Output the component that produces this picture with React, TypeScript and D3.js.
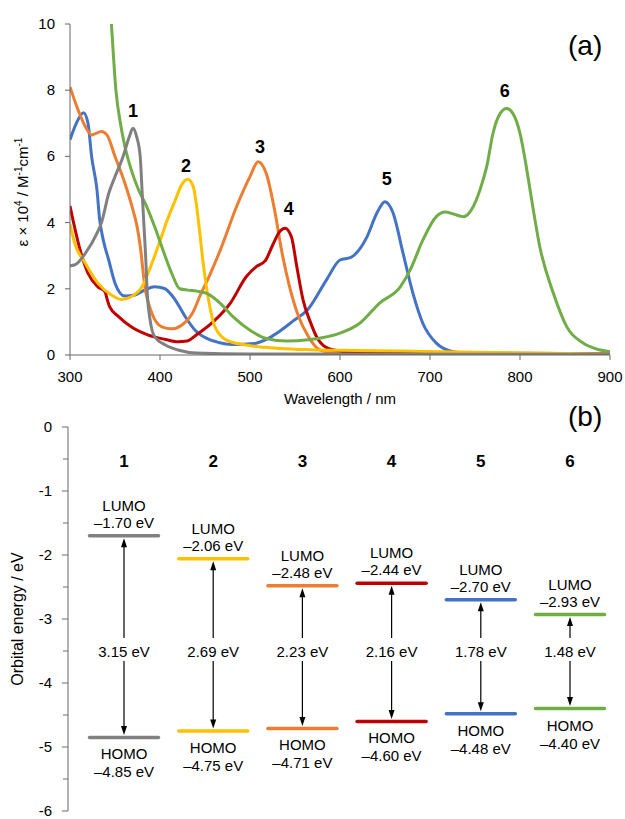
import React from 'react'
import * as d3 from 'd3'

// absorption spectra, [wavelength nm, eps x 1e4]
const abs1 = [[300, 2.7], [305, 2.72], [317, 3.07], [330, 3.68], [335, 4.0], [343, 4.88], [350, 5.39], [359, 6.0], [366, 6.6], [370, 6.85], [374, 6.6], [378, 6.0], [380, 5.0], [382, 4.0], [384, 3.0], [386, 1.8], [389, 1.06], [394, 0.55], [406, 0.3], [420, 0.15], [440, 0.06], [500, 0.03], [900, 0.02]]
const abs2 = [[300, 3.95], [305, 3.4], [317, 2.77], [331, 2.17], [346, 1.81], [357, 1.68], [368, 1.76], [380, 2.06], [391, 2.77], [402, 3.6], [407, 4.0], [417, 4.68], [424, 5.14], [431, 5.31], [437, 5.08], [443, 3.98], [448, 2.77], [454, 1.66], [461, 0.85], [474, 0.45], [496, 0.3], [533, 0.2], [567, 0.16], [600, 0.14], [667, 0.12], [750, 0.08], [900, 0.03]]
const abs3 = [[300, 8.1], [309, 7.4], [317, 6.9], [324, 6.65], [335, 6.75], [341, 6.65], [350, 6.0], [361, 5.19], [370, 4.38], [374, 3.95], [378, 3.3], [383, 2.1], [391, 1.26], [402, 0.85], [413, 0.79], [424, 0.9], [437, 1.31], [444, 1.76], [455, 2.4], [467, 3.17], [485, 4.48], [500, 5.39], [509, 5.84], [518, 5.49], [528, 4.28], [535, 3.17], [544, 2.06], [554, 1.16], [565, 0.55], [575, 0.2], [585, 0.1], [650, 0.06], [900, 0.04]]
const abs4 = [[300, 4.5], [311, 3.2], [320, 2.47], [331, 2.06], [339, 1.91], [341, 1.71], [344, 1.46], [354, 1.16], [368, 0.85], [387, 0.6], [406, 0.47], [420, 0.4], [430, 0.42], [441, 0.62], [459, 1.0], [478, 1.56], [496, 2.37], [507, 2.67], [517, 2.85], [526, 3.37], [533, 3.73], [539, 3.83], [546, 3.57], [552, 2.67], [559, 1.66], [567, 1.0], [575, 0.5], [581, 0.3], [593, 0.15], [620, 0.08], [900, 0.04]]
const abs5 = [[300, 6.5], [307, 7.0], [315, 7.32], [320, 7.0], [324, 6.0], [330, 4.98], [333, 4.08], [337, 3.47], [343, 2.87], [350, 2.17], [361, 1.78], [372, 1.81], [383, 1.96], [394, 2.06], [405, 2.01], [417, 1.66], [428, 1.16], [439, 0.75], [452, 0.5], [465, 0.38], [480, 0.32], [505, 0.35], [520, 0.5], [533, 0.72], [548, 1.03], [565, 1.4], [585, 2.27], [600, 2.87], [612, 2.95], [630, 3.57], [641, 4.29], [650, 4.63], [659, 4.29], [670, 3.08], [681, 1.87], [692, 0.96], [707, 0.36], [726, 0.1], [750, 0.04], [900, 0.02]]
const abs6 = [[340, 12.5], [346, 10], [351, 8.0], [356, 7.0], [361, 6.3], [368, 5.6], [376, 5.0], [385, 4.5], [394, 3.88], [402, 3.27], [413, 2.47], [422, 2.0], [431, 1.96], [441, 1.93], [452, 1.86], [467, 1.56], [481, 1.16], [500, 0.75], [518, 0.5], [541, 0.42], [565, 0.46], [580, 0.52], [600, 0.66], [622, 0.96], [644, 1.57], [667, 2.06], [678, 2.57], [692, 3.47], [707, 4.18], [717, 4.32], [727, 4.25], [737, 4.18], [748, 4.48], [759, 5.29], [763, 5.69], [770, 6.7], [778, 7.3], [785, 7.45], [792, 7.3], [800, 6.7], [807, 5.69], [813, 4.68], [822, 3.27], [837, 1.87], [852, 0.85], [870, 0.36], [885, 0.18], [900, 0.1]]

const compounds = ['1', '2', '3', '4', '5', '6']
const colors = ['#808080', '#FFC000', '#ED7D31', '#C00000', '#4472C4', '#70AD47']
const spectra = [abs1, abs2, abs3, abs4, abs5, abs6]
const drawOrder = [4, 2, 3, 1, 5, 0]
// where the number labels sit, in data units
const peakLabels = [[370, 7.2], [429, 5.53], [511, 6.1], [543, 4.23], [652, 5.14], [783, 7.79]]

const xTicksA = [300, 400, 500, 600, 700, 800, 900]
const yTicksA = [0, 2, 4, 6, 8, 10]

// orbital energies (eV)
const lumo = [-1.70, -2.06, -2.48, -2.44, -2.70, -2.93]
const homo = [-4.85, -4.75, -4.71, -4.60, -4.48, -4.40]
const gaps = [3.15, 2.69, 2.23, 2.16, 1.78, 1.48]
const yTicksB = [0, -1, -2, -3, -4, -5, -6]

const FONT = 'Liberation Sans, Arial, Helvetica, sans-serif'
const fmt = (v: number) => '\u2013' + Math.abs(v).toFixed(2) + ' eV'

export default function App() {
  // panel (a)
  const x = d3.scaleLinear().domain([300, 900]).range([70, 610])
  const y = d3.scaleLinear().domain([0, 10]).range([355, 24])
  const line = d3.line<number[]>().x(d => x(d[0])).y(d => y(d[1])).curve(d3.curveMonotoneX)

  // panel (b)
  const xb = d3.scalePoint<string>().domain(compounds).range([124, 570])
  const yb = d3.scaleLinear().domain([0, -6]).range([427, 811])
  const half = 34.5
  const minorB = d3.range(0, -6.01, -0.5)
  const gapY = yb(-3.5)

  return (
    <svg width={625} height={819} style={{ position: 'absolute', left: 0, top: 0, background: '#fff' }} fontFamily={FONT}>
      <defs>
        <clipPath id="plotA">
          <rect x={x(300)} y={y(10)} width={x(900) - x(300)} height={y(0) - y(10)} />
        </clipPath>
      </defs>

      {/* ---- (a) absorption ---- */}
      <g clipPath="url(#plotA)">
        {drawOrder.map(i => (
          <path key={i} d={line(spectra[i]) || ''} fill="none" stroke={colors[i]} strokeWidth={3} strokeLinejoin="round" />
        ))}
      </g>
      <g stroke="#666" strokeWidth={1}>
        <line x1={x(300)} x2={x(300)} y1={y(10)} y2={y(0)} />
        <line x1={x(300)} x2={x(900)} y1={y(0)} y2={y(0)} />
        {yTicksA.map(t => <line key={t} x1={x(300) - 5} x2={x(300)} y1={y(t)} y2={y(t)} />)}
        {xTicksA.map(t => <line key={t} x1={x(t)} x2={x(t)} y1={y(0)} y2={y(0) + 5} />)}
      </g>
      <g fontSize={15} fill="#000">
        {yTicksA.map(t => <text key={t} x={x(300) - 15} y={y(t) + 5} textAnchor="end">{t}</text>)}
        {xTicksA.map(t => <text key={t} x={x(t)} y={y(0) + 27} textAnchor="middle">{t}</text>)}
        <text x={(x(300) + x(900)) / 2} y={404} textAnchor="middle">Wavelength / nm</text>
        <text transform="translate(28,192) rotate(-90)" textAnchor="middle" fontSize={15}>
          ε × 10<tspan dy={-6} fontSize={10}>4</tspan><tspan dy={6}> / M</tspan><tspan dy={-6} fontSize={10}>-1</tspan><tspan dy={6}>cm</tspan><tspan dy={-6} fontSize={10}>-1</tspan>
        </text>
      </g>
      <g fontSize={18} fontWeight="bold" textAnchor="middle">
        {peakLabels.map((p, i) => <text key={i} x={x(p[0])} y={y(p[1])}>{compounds[i]}</text>)}
      </g>
      <text x={568} y={55} fontSize={28}>(a)</text>

      {/* ---- (b) orbital energies ---- */}
      <text x={568} y={426} fontSize={28}>(b)</text>
      <g stroke="#666" strokeWidth={1}>
        <line x1={68} x2={68} y1={yb(0)} y2={yb(-6)} />
        {minorB.map(t => <line key={t} x1={Number.isInteger(t) ? 62 : 63} x2={68} y1={yb(t)} y2={yb(t)} />)}
      </g>
      <g fontSize={15}>
        {yTicksB.map(t => <text key={t} x={52} y={yb(t) + 5} textAnchor="end">{t}</text>)}
        <text transform={`translate(23,${yb(-3)}) rotate(-90)`} textAnchor="middle" fontSize={16}>Orbital energy / eV</text>
      </g>
      {compounds.map((c, i) => {
        const cx = xb(c) as number
        const yL = yb(lumo[i])
        const yH = yb(homo[i])
        const tipU = yL + 2.5
        const tipD = yH - 2.5
        return (
          <g key={c}>
            <text x={cx} y={467} textAnchor="middle" fontSize={17} fontWeight="bold">{c}</text>
            <line x1={cx - half} x2={cx + half} y1={yL} y2={yL} stroke={colors[i]} strokeWidth={3.5} strokeLinecap="round" />
            <line x1={cx - half} x2={cx + half} y1={yH} y2={yH} stroke={colors[i]} strokeWidth={3.5} strokeLinecap="round" />
            <line x1={cx} x2={cx} y1={tipU + 6} y2={gapY - 13} stroke="#000" strokeWidth={1.2} />
            <line x1={cx} x2={cx} y1={gapY + 10} y2={tipD - 6} stroke="#000" strokeWidth={1.2} />
            <path d={`M${cx},${tipU} L${cx - 3},${tipU + 9} L${cx + 3},${tipU + 9} Z`} fill="#000" />
            <path d={`M${cx},${tipD} L${cx - 3},${tipD - 9} L${cx + 3},${tipD - 9} Z`} fill="#000" />
            <g fontSize={15} textAnchor="middle">
              <text x={cx} y={yL - 25}>LUMO</text>
              <text x={cx} y={yL - 8}>{fmt(lumo[i])}</text>
              <text x={cx} y={gapY + 5.5}>{gaps[i].toFixed(2)} eV</text>
              <text x={cx} y={yH + 22}>HOMO</text>
              <text x={cx} y={yH + 40}>{fmt(homo[i])}</text>
            </g>
          </g>
        )
      })}
    </svg>
  )
}
